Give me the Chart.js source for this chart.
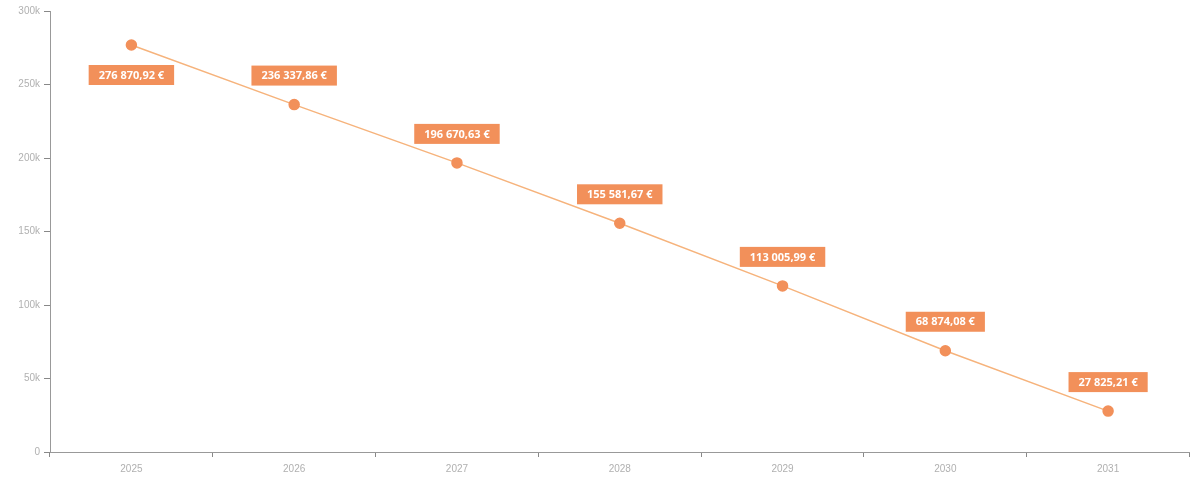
<!DOCTYPE html>
<html>
<head>
<meta charset="utf-8">
<script src="https://cdn.jsdelivr.net/npm/chart.js@4"></script>
<style>
  html, body { margin: 0; padding: 0; background: #fff; }
  #wrap { width: 1196px; height: 480px; position: relative; }
</style>
</head>
<body>
<div id="wrap"><canvas id="chart" width="1196" height="480"></canvas></div>
<script>
// Années et capital restant
const years = ['2025', '2026', '2027', '2028', '2029', '2030', '2031'];
const remaining = [276870.92, 236337.86, 196670.63, 155581.67, 113005.99, 68874.08, 27825.21];
const yTicks = [0, 50000, 100000, 150000, 200000, 250000, 300000];

const orange = '#f2905a';
const lineOrange = '#f6b37c';
const euro = new Intl.NumberFormat('fr-FR', { minimumFractionDigits: 2, maximumFractionDigits: 2 });

// étiquettes de valeur dessinées à la main (pas de plugin datalabels)
const valueLabels = {
    id: 'valueLabels',
    afterDatasetsDraw(chart) {
        const ctx = chart.ctx;
        const meta = chart.getDatasetMeta(0);
        ctx.save();
        ctx.font = 'bold 11px "Open Sans", sans-serif';
        ctx.textAlign = 'center';
        ctx.textBaseline = 'middle';
        meta.data.forEach((pt, i) => {
            const text = euro.format(remaining[i]).replace(/\u202f|\u00a0/g, ' ') + ' €';
            const w = ctx.measureText(text).width + 20;
            const h = 20;
            const cy = i === 0 ? pt.y + 30 : pt.y - 29;
            ctx.fillStyle = orange;
            ctx.fillRect(pt.x - w / 2, cy - h / 2, w, h);
            ctx.fillStyle = '#ffffff';
            ctx.fillText(text, pt.x, cy + 0.5);
        });
        ctx.restore();
    }
};

const ctx = document.getElementById('chart').getContext('2d');
new Chart(ctx, {
    type: 'line',
    data: {
        labels: years,
        datasets: [{
            data: remaining,
            borderColor: lineOrange,
            borderWidth: 1.5,
            pointRadius: 5,
            pointHoverRadius: 5,
            pointBackgroundColor: orange,
            pointBorderColor: orange,
            tension: 0
        }]
    },
    options: {
        responsive: false,
        animation: false,
        layout: { padding: { top: 11, right: -3, left: 0, bottom: 0 } },
        plugins: {
            legend: { display: false },
            tooltip: { enabled: false }
        },
        scales: {
            x: {
                offset: true,
                grid: {
                    offset: true,
                    drawOnChartArea: false,
                    drawTicks: true,
                    tickLength: 5,
                    color: '#888'
                },
                border: { color: '#999', width: 1 },
                ticks: { color: '#b0b0b0', font: { size: 10 }, padding: 6 },
                afterFit(scale) { scale.height = 28; }
            },
            y: {
                min: 0,
                max: 300000,
                afterBuildTicks(scale) { scale.ticks = yTicks.map(v => ({ value: v })); },
                grid: {
                    drawOnChartArea: false,
                    drawTicks: true,
                    tickLength: 6,
                    color: '#888'
                },
                border: { color: '#999', width: 1 },
                ticks: {
                    color: '#b0b0b0',
                    font: { size: 10 },
                    padding: 4,
                    callback: v => v === 0 ? '0' : (v / 1000) + 'k'
                },
                afterFit(scale) { scale.width = 50; }
            }
        }
    },
    plugins: [valueLabels]
});
</script>
</body>
</html>
